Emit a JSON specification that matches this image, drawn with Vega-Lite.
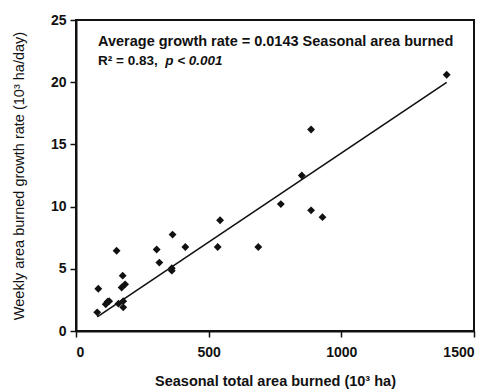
{
  "$schema": "https://vega.github.io/schema/vega-lite/v6.json",
  "width": 398,
  "height": 311,
  "autosize": {"type": "none"},
  "padding": {"left": 76, "top": 20, "right": 16, "bottom": 59},
  "background": "white",
  "config": {
    "font": "Liberation Sans",
    "view": {"stroke": "#111", "strokeWidth": 2},
    "axis": {
      "grid": false,
      "domainColor": "#111",
      "domainWidth": 2,
      "tickColor": "#111",
      "tickWidth": 1.5,
      "tickSize": 6,
      "labelFont": "Liberation Sans",
      "labelFontWeight": "bold",
      "labelFontSize": 14,
      "labelColor": "#111",
      "titleFont": "Liberation Sans",
      "titleColor": "#111"
    }
  },
  "datasets": {
    "pts": [
      {"area": 80, "rate": 1.5},
      {"area": 84, "rate": 3.4},
      {"area": 112, "rate": 2.15},
      {"area": 119, "rate": 2.35},
      {"area": 125, "rate": 2.4},
      {"area": 153, "rate": 6.45},
      {"area": 160, "rate": 2.2},
      {"area": 172, "rate": 3.5},
      {"area": 176, "rate": 4.45},
      {"area": 185, "rate": 3.75},
      {"area": 178, "rate": 2.4},
      {"area": 178, "rate": 1.9},
      {"area": 304, "rate": 6.55},
      {"area": 314, "rate": 5.5},
      {"area": 361, "rate": 4.85},
      {"area": 361, "rate": 5.05},
      {"area": 364, "rate": 7.75},
      {"area": 412, "rate": 6.75},
      {"area": 543, "rate": 8.9},
      {"area": 534, "rate": 6.75},
      {"area": 687, "rate": 6.75},
      {"area": 772, "rate": 10.2},
      {"area": 851, "rate": 12.5},
      {"area": 886, "rate": 16.2},
      {"area": 886, "rate": 9.7},
      {"area": 929, "rate": 9.15},
      {"area": 1397, "rate": 20.6}
    ],
    "fit": [
      {"area": 80, "rate": 1.14},
      {"area": 1397, "rate": 19.98}
    ],
    "notes": [
      {"area": 83, "rate": 22.9, "label": "Average growth rate = 0.0143 Seasonal area burned", "style": "normal"},
      {"area": 83, "rate": 21.35, "label": "R² = 0.83,", "style": "normal"},
      {"area": 336, "rate": 21.35, "label": "p < 0.001", "style": "italic"}
    ]
  },
  "layer": [
    {
      "data": {"name": "fit"},
      "mark": {"type": "line", "color": "#111", "strokeWidth": 1.6},
      "encoding": {
        "x": {
          "field": "area", "type": "quantitative",
          "scale": {"domain": [0, 1500], "nice": false},
          "axis": {"values": [0, 500, 1000, 1500], "format": "d", "title": "Seasonal total area burned (10³ ha)", "titleFontWeight": "bold", "titleFontSize": 14.5, "titlePadding": 15, "labelPadding": 8}
        },
        "y": {
          "field": "rate", "type": "quantitative",
          "scale": {"domain": [0, 25], "nice": false},
          "axis": {"values": [0, 5, 10, 15, 20, 25], "format": "d", "title": "Weekly area burned growth rate (10³ ha/day)", "titleFontWeight": "normal", "titleFontSize": 14.5, "titlePadding": 24, "labelPadding": 4}
        }
      }
    },
    {
      "data": {"name": "pts"},
      "mark": {"type": "point", "shape": "diamond", "filled": true, "color": "#111", "size": 62, "opacity": 1},
      "encoding": {
        "x": {"field": "area", "type": "quantitative"},
        "y": {"field": "rate", "type": "quantitative"}
      }
    },
    {
      "data": {"name": "notes"},
      "transform": [{"filter": "datum.style == 'normal' && datum.rate > 22"}],
      "mark": {"type": "text", "align": "left", "baseline": "alphabetic", "fontWeight": "bold", "fontSize": 14.5, "color": "#111"},
      "encoding": {
        "x": {"field": "area", "type": "quantitative"},
        "y": {"field": "rate", "type": "quantitative"},
        "text": {"field": "label"}
      }
    },
    {
      "data": {"name": "notes"},
      "transform": [{"filter": "datum.style == 'normal' && datum.rate < 22"}],
      "mark": {"type": "text", "align": "left", "baseline": "alphabetic", "fontWeight": "bold", "fontSize": 13.5, "color": "#111"},
      "encoding": {
        "x": {"field": "area", "type": "quantitative"},
        "y": {"field": "rate", "type": "quantitative"},
        "text": {"field": "label"}
      }
    },
    {
      "data": {"name": "notes"},
      "transform": [{"filter": "datum.style == 'italic'"}],
      "mark": {"type": "text", "align": "left", "baseline": "alphabetic", "fontWeight": "bold", "fontStyle": "italic", "fontSize": 13.5, "color": "#111"},
      "encoding": {
        "x": {"field": "area", "type": "quantitative"},
        "y": {"field": "rate", "type": "quantitative"},
        "text": {"field": "label"}
      }
    }
  ]
}
